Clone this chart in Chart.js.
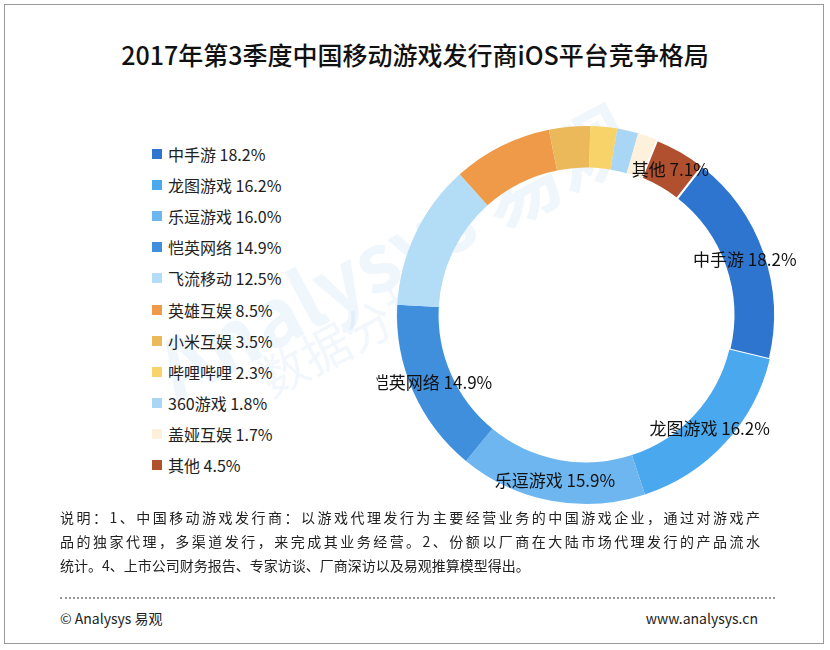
<!DOCTYPE html>
<html>
<head>
<meta charset="utf-8">
<script src="https://cdn.jsdelivr.net/npm/chart.js@4"></script>
<style>
  body { margin: 0; background: #fff; font-family: "Noto Sans CJK SC", sans-serif; }
  #frame { position: absolute; left: 4px; top: 4px; width: 820px; height: 640px; border: 1px solid #999; box-sizing: border-box; }
  #title { position: absolute; left: 0; width: 830px; top: 36px; text-align: center; font-size: 25px; color: #111; font-weight: 500; }
  #chartBox { position: absolute; left: 376px; top: 110px; width: 420px; height: 410px; }
  #legend { position: absolute; left: 152px; top: 138px; font-size: 16px; color: #222; }
  #legend div { height: 31.2px; display: flex; align-items: center; }
  #legend span.sw { width: 10px; height: 10px; margin-right: 6px; display: inline-block; }
  #note { position: absolute; left: 60px; top: 505px; width: 700px; font-size: 14px; line-height: 24px; color: #222; }
  #note .j { text-align: justify; text-align-last: justify; white-space: nowrap; }
  #dots { position: absolute; left: 60px; top: 597px; width: 715px; border-top: 2px dotted #999; }
  #foot1 { position: absolute; left: 60px; top: 608px; font-size: 14px; color: #222; }
  #foot2 { position: absolute; right: 72px; top: 608px; font-size: 14px; color: #222; }
  .wm { position: absolute; color: rgba(120,180,230,0.12); font-weight: bold; transform: rotate(-28deg); }
</style>
</head>
<body>
<div id="frame"></div>
<div id="title">2017年第3季度中国移动游戏发行商iOS平台竞争格局</div>
<div class="wm" style="left:130px;top:190px;font-size:80px;">Analysys 易观</div>
<div class="wm" style="left:250px;top:300px;font-size:48px;color:rgba(120,180,230,0.10);font-weight:normal;">数据分析</div>
<div id="legend"></div>
<div id="chartBox"><canvas id="shareChart"></canvas></div>
<div id="note">
  <div class="j">说明：1、中国移动游戏发行商：以游戏代理发行为主要经营业务的中国游戏企业，通过对游戏产</div>
  <div class="j">品的独家代理，多渠道发行，来完成其业务经营。2、份额以厂商在大陆市场代理发行的产品流水</div>
  <div>统计。4、上市公司财务报告、专家访谈、厂商深访以及易观推算模型得出。</div>
</div>
<div id="dots"></div>
<div id="foot1">© Analysys 易观</div>
<div id="foot2">www.analysys.cn</div>
<script>
const companies = ["中手游", "龙图游戏", "乐逗游戏", "恺英网络", "飞流移动", "英雄互娱", "小米互娱", "哔哩哔哩", "360游戏", "盖娅互娱", "其他"];
const shares = [18.2, 16.2, 16.0, 14.9, 12.5, 8.5, 3.5, 2.3, 1.8, 1.7, 4.4];
const legendText = ["18.2%", "16.2%", "16.0%", "14.9%", "12.5%", "8.5%", "3.5%", "2.3%", "1.8%", "1.7%", "4.5%"];
const sliceLabels = ["中手游 18.2%", "龙图游戏 16.2%", "乐逗游戏 15.9%", "恺英网络 14.9%", "", "", "", "", "", "", "其他 7.1%"];
const colors = ["#2e75d0", "#4aa8ee", "#6db6f0", "#3f8fdc", "#b3dcf7", "#ef9a48", "#ebb85a", "#f8d36a", "#a9d6f5", "#fdf1dc", "#b0502f"];

// HTML legend
const legendEl = document.getElementById("legend");
companies.forEach((c, i) => {
  const row = document.createElement("div");
  row.innerHTML = '<span class="sw" style="background:' + colors[i] + '"></span>' + c + " " + legendText[i];
  legendEl.appendChild(row);
});

const sliceLabelPlugin = {
  id: "sliceLabels",
  afterDatasetsDraw(chart) {
    const ctx = chart.ctx;
    const arcs = chart.getDatasetMeta(0).data;
    ctx.save();
    ctx.font = '17px "Noto Sans CJK SC"';
    ctx.fillStyle = "#111";
    ctx.textAlign = "center";
    ctx.textBaseline = "middle";
    arcs.forEach((arc, i) => {
      if (!sliceLabels[i]) return;
      const p = arc.tooltipPosition();
      ctx.fillText(sliceLabels[i], p.x, p.y);
    });
    ctx.restore();
  },
};

const shareCtx = document.getElementById("shareChart").getContext("2d");
const shareChart = new Chart(shareCtx, {
  type: "doughnut",
  data: {
    labels: companies,
    datasets: [
      {
        data: shares,
        backgroundColor: colors,
        borderColor: "#fff",
        borderWidth: [2, 0, 0, 0, 0, 0, 0, 0, 0, 0, 2],
      },
    ],
  },
  options: {
    responsive: true,
    maintainAspectRatio: false,
    animation: false,
    cutout: "78%",
    rotation: 38,
    layout: { padding: { left: 20, right: 20, top: 13, bottom: 13 } },
    plugins: {
      legend: { display: false },
      tooltip: { enabled: false },
    },
  },
  plugins: [sliceLabelPlugin],
});
</script>
</body>
</html>
